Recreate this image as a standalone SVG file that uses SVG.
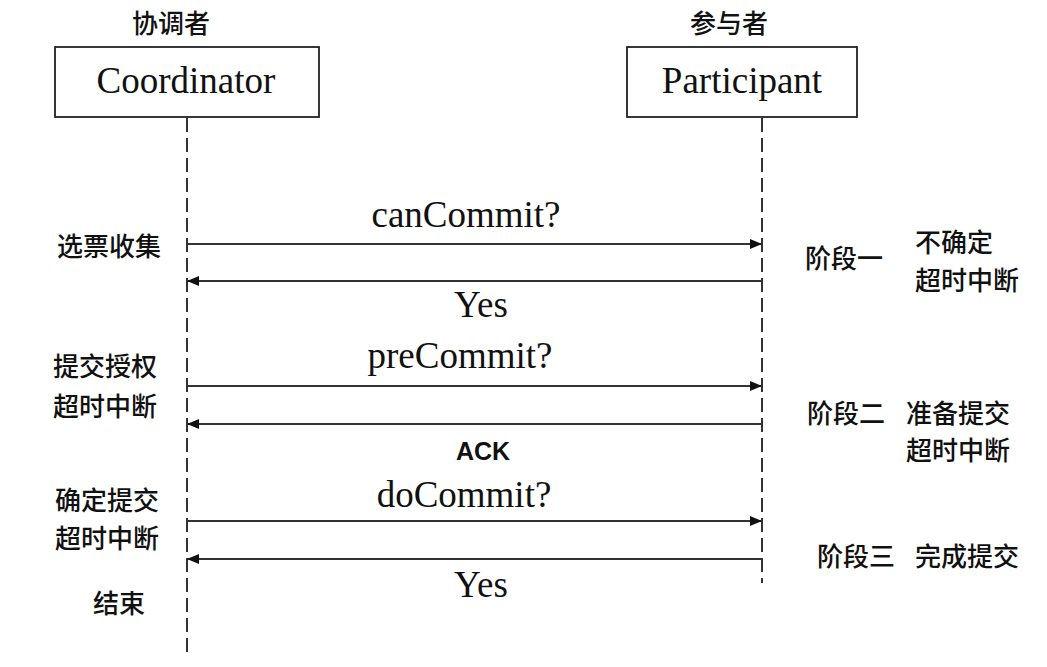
<svg xmlns="http://www.w3.org/2000/svg" width="1047" height="667" viewBox="0 0 1047 667">
<style>
.cjk{font-family:"Noto Sans CJK SC","Noto Sans",sans-serif;font-size:26px;font-weight:500;fill:#111;}
.ser{font-family:"Liberation Serif","Times New Roman",serif;font-size:37px;fill:#111;}
.box{fill:#fff;stroke:#222;stroke-width:1.8;}
.life{stroke:#333;stroke-width:2;stroke-dasharray:14 6;fill:none;}
.msg{stroke:#333;stroke-width:1.8;fill:none;}
.ack{font-family:"Liberation Sans",Arial,sans-serif;font-size:25px;font-weight:bold;fill:#111;}
</style>
<defs>
<marker id="ah" viewBox="0 0 12 10" refX="12" refY="5" markerWidth="12" markerHeight="10" markerUnits="userSpaceOnUse" orient="auto">
<path d="M0,0 L12,5 L0,10 z" fill="#111"/>
</marker>
</defs>
<rect width="1047" height="667" fill="#fff"/>
<g id="coordinator">
<text class="cjk" x="132" y="33">协调者</text>
<rect class="box" x="55" y="47" width="264" height="70"/>
<text class="ser" x="186" y="93" text-anchor="middle">Coordinator</text>
</g>
<g id="participant">
<text class="cjk" x="690" y="33">参与者</text>
<rect class="box" x="627" y="47" width="230" height="70"/>
<text class="ser" x="742" y="93" text-anchor="middle">Participant</text>
</g>
<g id="connectors">
<line class="life" x1="187" y1="118" x2="187" y2="653"/>
<line class="life" x1="762" y1="118" x2="762" y2="583"/>
<line class="msg" x1="187" y1="244" x2="762" y2="244" marker-end="url(#ah)"/>
<line class="msg" x1="762" y1="281" x2="187" y2="281" marker-end="url(#ah)"/>
<line class="msg" x1="187" y1="386" x2="762" y2="386" marker-end="url(#ah)"/>
<line class="msg" x1="762" y1="424" x2="187" y2="424" marker-end="url(#ah)"/>
<line class="msg" x1="187" y1="521" x2="762" y2="521" marker-end="url(#ah)"/>
<line class="msg" x1="762" y1="559" x2="187" y2="559" marker-end="url(#ah)"/>
</g>
<g id="message-labels">
<text class="ser" x="466" y="227" text-anchor="middle">canCommit?</text>
<text class="ser" x="481" y="317" text-anchor="middle">Yes</text>
<text class="ser" x="460" y="368" text-anchor="middle">preCommit?</text>
<text class="ack" x="483" y="460" text-anchor="middle">ACK</text>
<text class="ser" x="464" y="507" text-anchor="middle">doCommit?</text>
<text class="ser" x="481" y="597" text-anchor="middle">Yes</text>
</g>
<g id="left-labels">
<text class="cjk" x="57" y="256">选票收集</text>
<text class="cjk" x="53" y="376">提交授权</text>
<text class="cjk" x="53" y="416">超时中断</text>
<text class="cjk" x="55" y="510">确定提交</text>
<text class="cjk" x="55" y="548">超时中断</text>
<text class="cjk" x="93" y="613">结束</text>
</g>
<g id="right-labels">
<text class="cjk" x="805" y="268">阶段一</text>
<text class="cjk" x="915" y="252">不确定</text>
<text class="cjk" x="915" y="290">超时中断</text>
<text class="cjk" x="807" y="423">阶段二</text>
<text class="cjk" x="906" y="423">准备提交</text>
<text class="cjk" x="906" y="460">超时中断</text>
<text class="cjk" x="817" y="566">阶段三</text>
<text class="cjk" x="915" y="566">完成提交</text>
</g>
</svg>
